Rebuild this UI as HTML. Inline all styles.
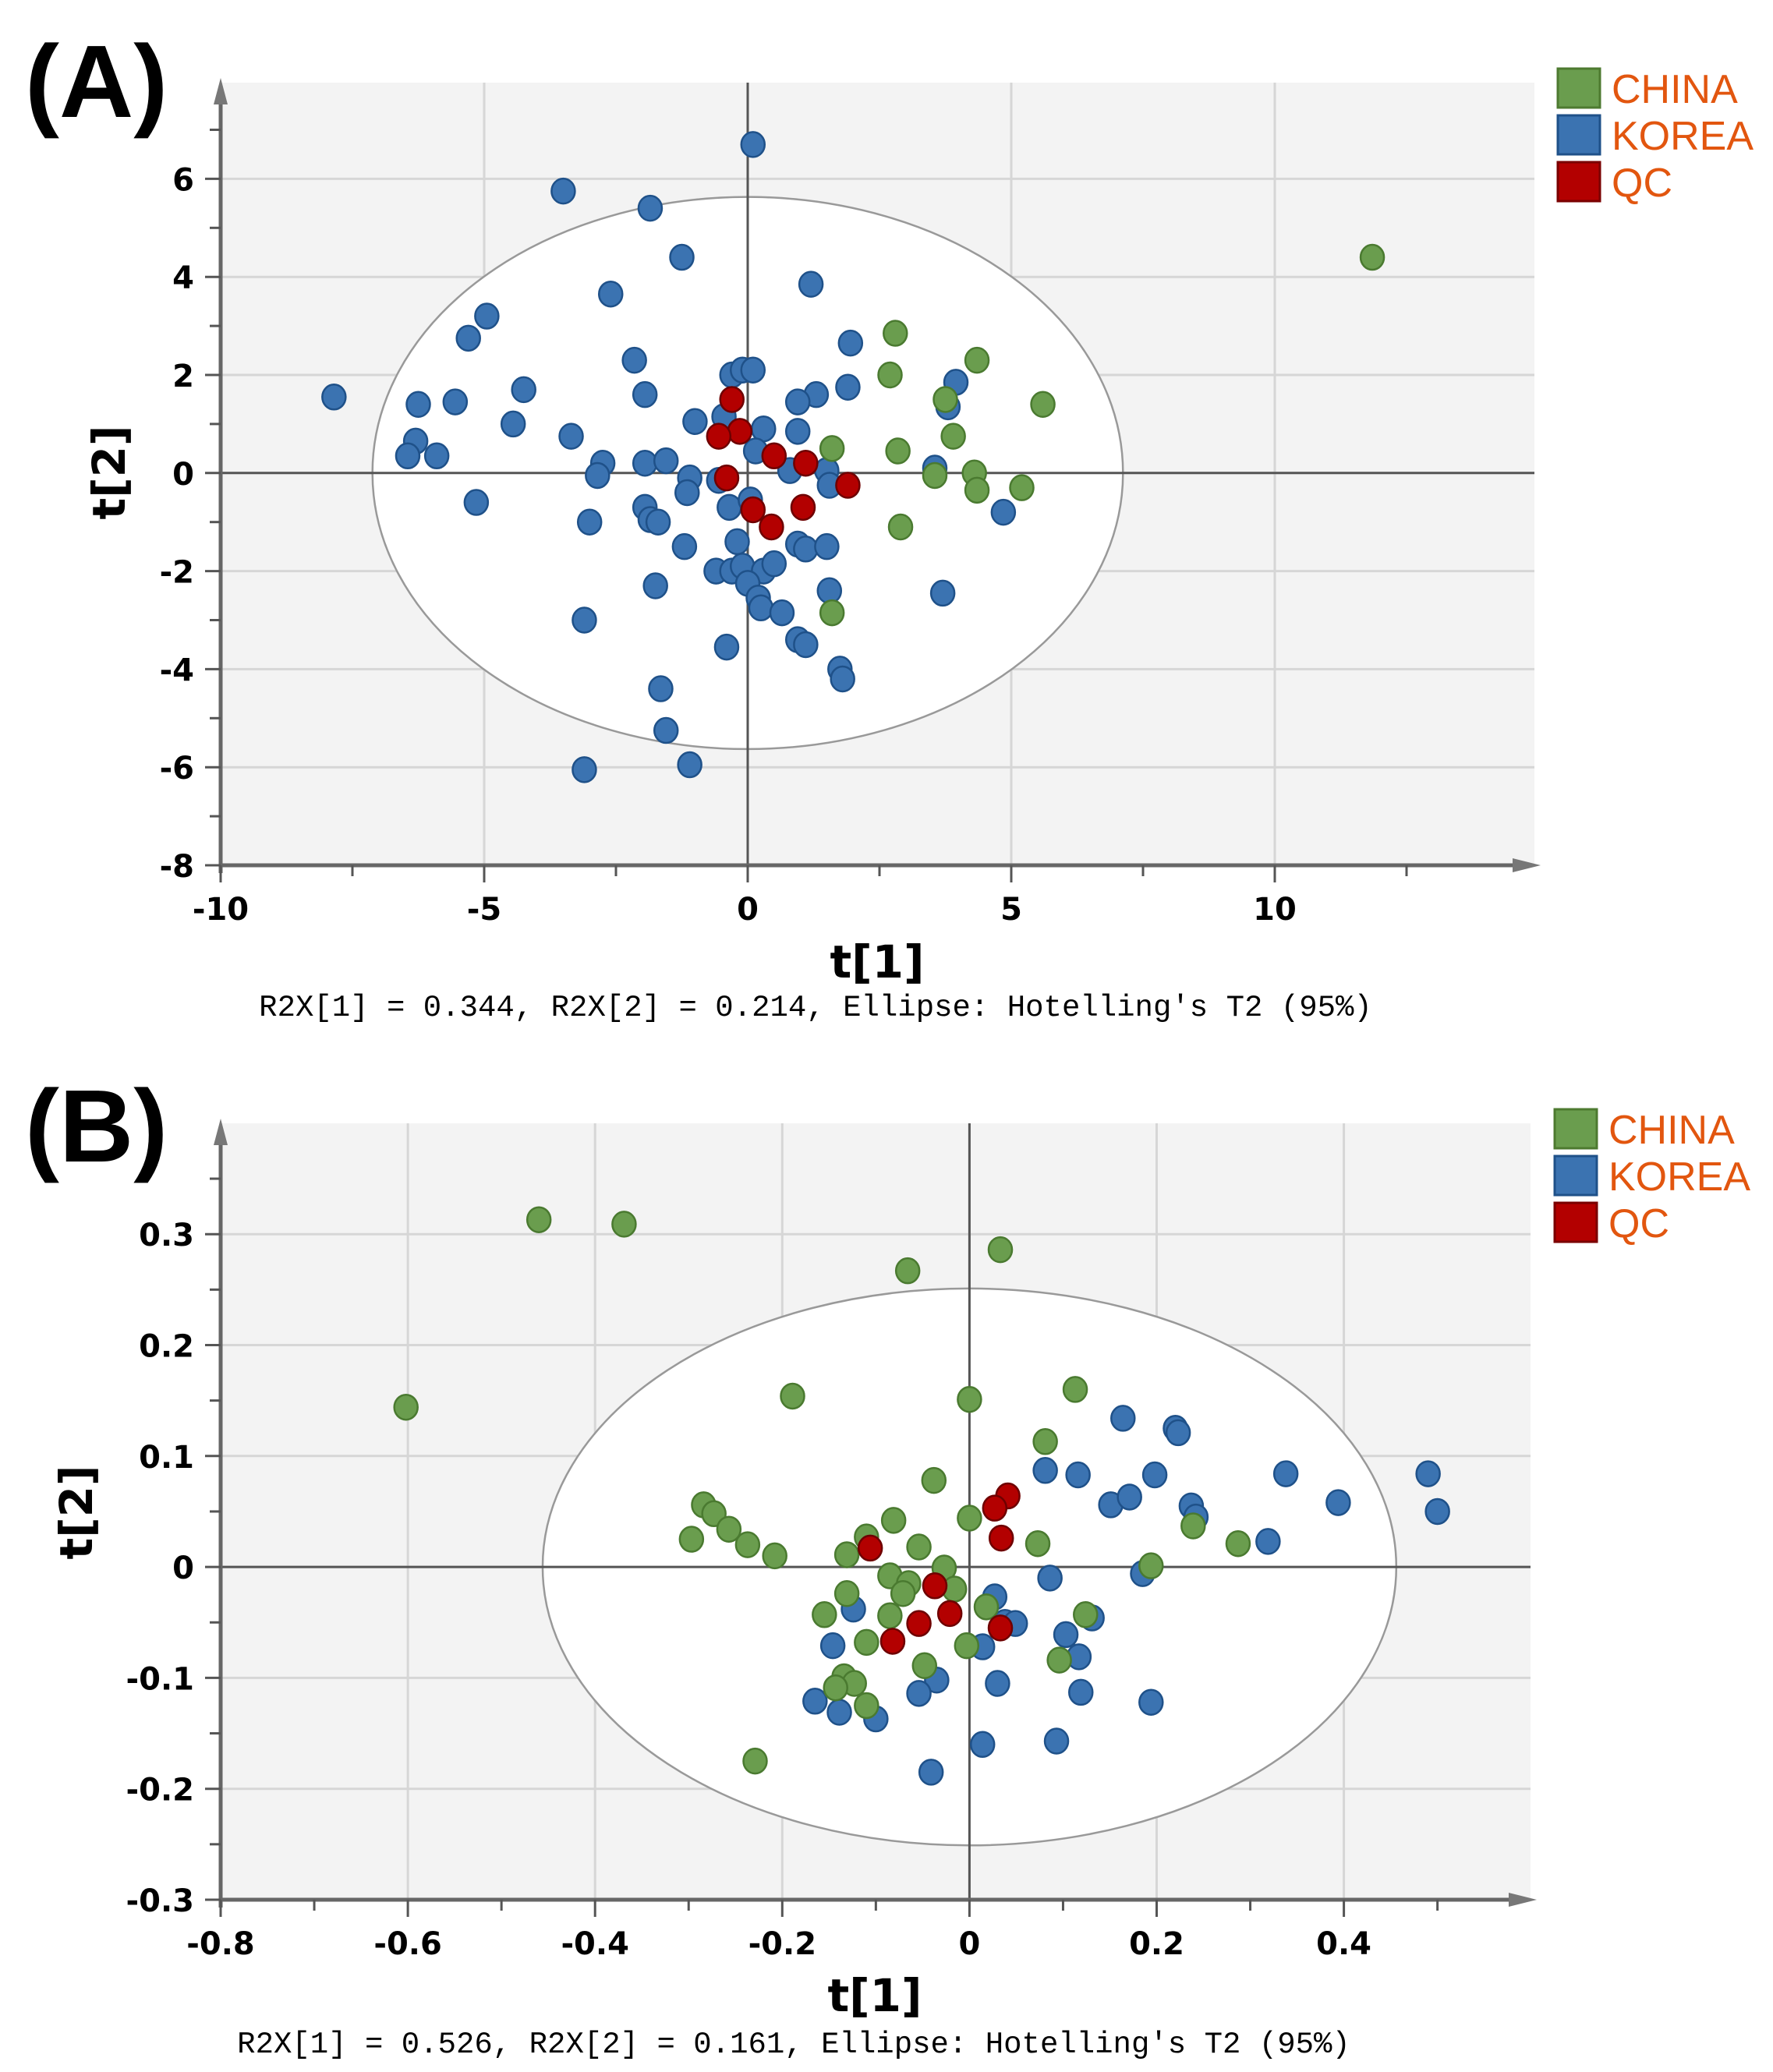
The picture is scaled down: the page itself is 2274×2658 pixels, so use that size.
<!DOCTYPE html>
<html><head><meta charset="utf-8">
<style>
html,body{margin:0;padding:0;background:#fff;}
svg{display:block;}
.tick{font-family:"DejaVu Sans","Liberation Sans",sans-serif;font-weight:bold;font-size:40px;fill:#000;}
.ttl{font-family:"DejaVu Sans","Liberation Sans",sans-serif;font-weight:bold;font-size:58px;fill:#000;}
.cap{font-family:"Liberation Mono","DejaVu Sans Mono",monospace;font-size:39px;fill:#000;}
.leg{font-family:"Liberation Sans",sans-serif;font-size:52px;fill:#e2560f;}
.pl{font-family:"Liberation Sans",sans-serif;font-weight:bold;font-size:132px;fill:#000;}
</style></head>
<body>
<svg id="chart" width="2274" height="2658" viewBox="0 0 2274 2658" xmlns="http://www.w3.org/2000/svg"></svg>
<script>
// ---------- Panel A data ----------
const aKoreaX=[0.1,-3.5,-1.85,-1.25,1.2,-2.6,-4.95,-5.3,1.95,-2.15,-0.3,-0.1,0.1,3.95,-7.85,-4.25,-6.25,-5.55,-1.95,1.9,1.3,0.95,3.8,-4.45,-1.0,-0.45,0.3,-3.35,0.95,-6.3,-6.45,-5.9,-2.75,-2.85,-1.95,-1.55,-1.1,-1.15,-0.55,0.15,0.8,1.5,1.55,3.55,-5.15,-1.95,-1.85,-1.7,-0.35,0.05,4.85,-3.0,-1.2,-0.2,0.95,1.1,1.5,-0.6,-0.3,-0.1,0.3,0.5,0,0.2,0.25,-1.75,1.55,3.7,0.65,-3.1,-0.4,0.95,1.1,1.75,1.8,-1.65,-1.55,-3.1,-1.1];
const aKoreaY=[6.7,5.75,5.4,4.4,3.85,3.65,3.2,2.75,2.65,2.3,2.0,2.1,2.1,1.85,1.55,1.7,1.4,1.45,1.6,1.75,1.6,1.45,1.35,1.0,1.05,1.15,0.9,0.75,0.85,0.65,0.35,0.35,0.2,-0.05,0.2,0.25,-0.1,-0.4,-0.15,0.45,0.05,0.05,-0.25,0.1,-0.6,-0.7,-0.95,-1.0,-0.7,-0.55,-0.8,-1.0,-1.5,-1.4,-1.45,-1.55,-1.5,-2.0,-2.0,-1.9,-2.0,-1.85,-2.25,-2.55,-2.75,-2.3,-2.4,-2.45,-2.85,-3.0,-3.55,-3.4,-3.5,-4.0,-4.2,-4.4,-5.25,-6.05,-5.95];
const aChinaX=[11.85,2.8,4.35,2.7,5.6,3.75,3.9,1.6,2.85,3.55,4.3,4.35,5.2,2.9,1.6];
const aChinaY=[4.4,2.85,2.3,2.0,1.4,1.5,0.75,0.5,0.45,-0.05,0.0,-0.35,-0.3,-1.1,-2.85];
const aQcX=[-0.3,-0.15,-0.55,0.5,1.1,1.9,-0.4,0.1,1.05,0.45];
const aQcY=[1.5,0.85,0.75,0.35,0.2,-0.25,-0.1,-0.75,-0.7,-1.1];
const aXTicks=[-10,-5,0,5,10];
const aYTicks=[-8,-6,-4,-2,0,2,4,6];

// ---------- Panel B data ----------
const bChinaX=[-0.46,-0.369,0.033,-0.066,-0.602,-0.189,0.0,0.113,0.081,-0.038,-0.284,-0.273,-0.257,-0.297,-0.237,-0.208,0.0,-0.081,-0.11,-0.131,-0.054,0.073,-0.027,-0.085,-0.065,-0.071,-0.016,-0.131,-0.155,-0.085,0.018,0.124,0.239,0.287,0.194,-0.11,-0.003,-0.048,0.096,-0.134,-0.123,-0.143,-0.11,-0.229];
const bChinaY=[0.313,0.309,0.286,0.267,0.144,0.154,0.151,0.16,0.113,0.078,0.056,0.048,0.034,0.025,0.02,0.01,0.044,0.042,0.027,0.011,0.018,0.021,-0.001,-0.008,-0.015,-0.024,-0.02,-0.024,-0.043,-0.044,-0.036,-0.043,0.037,0.021,0.001,-0.068,-0.071,-0.089,-0.084,-0.099,-0.105,-0.109,-0.125,-0.175];
const bKoreaX=[0.164,0.22,0.223,0.081,0.116,0.198,0.338,0.49,0.151,0.171,0.237,0.242,0.394,0.5,0.319,0.086,0.185,0.027,0.103,0.131,0.038,0.049,0.014,-0.124,-0.146,0.117,-0.035,-0.054,0.03,0.119,0.194,-0.165,-0.139,-0.1,0.014,0.093,-0.041];
const bKoreaY=[0.134,0.125,0.121,0.087,0.083,0.083,0.084,0.084,0.056,0.063,0.055,0.045,0.058,0.05,0.023,-0.01,-0.006,-0.027,-0.061,-0.046,-0.05,-0.051,-0.072,-0.038,-0.071,-0.081,-0.102,-0.114,-0.105,-0.113,-0.122,-0.121,-0.131,-0.137,-0.16,-0.157,-0.185];
const bQcX=[0.041,0.027,0.034,-0.106,-0.037,-0.021,-0.054,0.033,-0.082];
const bQcY=[0.064,0.053,0.026,0.017,-0.017,-0.042,-0.051,-0.055,-0.067];
const bXTicks=[-0.8,-0.6,-0.4,-0.2,0,0.2,0.4];
const bYTicks=[-0.3,-0.2,-0.1,0,0.1,0.2,0.3];

const NS="http://www.w3.org/2000/svg";
const svg=document.getElementById('chart');
function mk(tag,attrs,parent){const e=document.createElementNS(NS,tag);for(const k in attrs)e.setAttribute(k,attrs[k]);(parent||svg).appendChild(e);return e;}

function panel(cfg){
  const g=mk('g',{});
  
  
  const sx=v=>cfg.x0+(v-cfg.xmin)*cfg.kx;
  const sy=v=>cfg.y0-(v-cfg.ymin)*cfg.ky;
  const bg=mk('rect',{x:cfg.left,y:cfg.top,width:cfg.right-cfg.left,height:cfg.bottom-cfg.top,fill:'#f3f3f3'},g);
  
  
  cfg.yt.forEach(v=>{const l=mk('line',{x1:cfg.left,x2:cfg.right,y1:sy(v),y2:sy(v),stroke:'#d6d6d6','stroke-width':3},g);
    });
  cfg.xt.forEach(v=>{const l=mk('line',{x1:sx(v),x2:sx(v),y1:cfg.top,y2:cfg.bottom,stroke:'#d6d6d6','stroke-width':3},g);
    });
  const cx=sx(0),cy=sy(0);
  const el=mk('ellipse',{cx:cx,cy:cy,rx:(sx(cfg.erx)-cx),ry:(cy-sy(cfg.ery)),fill:'#fff',stroke:'#999','stroke-width':2.5},g);
  
  let z=mk('line',{x1:cfg.left,x2:cfg.right,y1:cy,y2:cy,stroke:'#555','stroke-width':3},g);
  
  z=mk('line',{x1:cx,x2:cx,y1:cfg.top,y2:cfg.bottom,stroke:'#555','stroke-width':3},g);
  
  const ax=mk('line',{x1:cfg.left,x2:cfg.right-10,y1:cfg.bottom,y2:cfg.bottom,stroke:'#666','stroke-width':5},g);
  
  const ay=mk('line',{x1:cfg.left,x2:cfg.left,y1:cfg.bottom+10,y2:cfg.top+10,stroke:'#666','stroke-width':5},g);
  
  let ar=mk('polygon',{points:`${cfg.right+8},${cfg.bottom} ${cfg.right-28},${cfg.bottom-9} ${cfg.right-28},${cfg.bottom+9}`,fill:'#777'},g);
  
  ar=mk('polygon',{points:`${cfg.left},${cfg.top-6} ${cfg.left-9},${cfg.top+28} ${cfg.left+9},${cfg.top+28}`,fill:'#777'},g);
  
  cfg.ymin_t.forEach(v=>{const t=mk('line',{x1:cfg.left-14,x2:cfg.left,y1:sy(v),y2:sy(v),stroke:'#555','stroke-width':3},g);
    });
  cfg.xmin_t.forEach(v=>{const t=mk('line',{x1:sx(v),x2:sx(v),y1:cfg.bottom,y2:cfg.bottom+14,stroke:'#555','stroke-width':3},g);
    });
  cfg.yt.forEach((v,i)=>{const t=mk('line',{x1:cfg.left-20,x2:cfg.left,y1:sy(v),y2:sy(v),stroke:'#555','stroke-width':3},g);
    
    const tx=mk('text',{x:cfg.left-34,y:sy(v)+15,'text-anchor':'end',class:'tick'},g);tx.textContent=cfg.ytl[i];
    });
  cfg.xt.forEach((v,i)=>{const t=mk('line',{x1:sx(v),x2:sx(v),y1:cfg.bottom,y2:cfg.bottom+22,stroke:'#555','stroke-width':3},g);
    
    const tx=mk('text',{x:sx(v),y:cfg.bottom+70,'text-anchor':'middle',class:'tick'},g);tx.textContent=cfg.xtl[i];
    });
  const series=[[cfg.kx_,cfg.ky_,'#3b73b1','#1f5189','korea'],[cfg.cx_,cfg.cy_,'#6a9d4e','#4a7a30','china'],[cfg.qx_,cfg.qy_,'#b30000','#6e0000','qc']];
  series.forEach(s=>{s[0].forEach((xv,i)=>{const c=mk('ellipse',{cx:sx(xv),cy:sy(s[1][i]),rx:15,ry:16,fill:s[2],stroke:s[3],'stroke-width':2.5},g);
    });});
  let t=mk('text',{x:cfg.t1x,y:cfg.t1y,'text-anchor':'middle',class:'ttl'},g);t.textContent='t[1]';
  
  t=mk('text',{x:0,y:0,'text-anchor':'middle',class:'ttl',transform:`translate(${cfg.t2x},${cfg.t2y}) rotate(-90)`},g);t.textContent='t[2]';
  
  t=mk('text',{x:cfg.capx,y:cfg.capy,'text-anchor':'middle',class:'cap'},g);t.textContent=cfg.cap;
  
  t=mk('text',{x:32,y:cfg.ply,class:'pl'},g);t.textContent=cfg.pl;
  
  const lg=mk('g',{},g);
  [['CHINA','#6a9d4e','#4d7a30'],['KOREA','#3b73b1','#1f5189'],['QC','#b30000','#7a0000']].forEach((e,i)=>{
    const y=cfg.legy+i*60;
    const r=mk('rect',{x:cfg.legx,y:y,width:54,height:50,fill:e[1],stroke:e[2],'stroke-width':3},lg);
    
    const tx=mk('text',{x:cfg.legx+69,y:y+44,class:'leg'},lg);tx.textContent=e[0];
    
  });
}
function range(a,b,s){const r=[];for(let v=a;v<=b+1e-9;v+=s)r.push(+v.toFixed(4));return r;}

panel({name:'panel-a-scores',left:283,right:1968,top:106,bottom:1110,x0:283,xmin:-10,kx:67.6,y0:1110,ymin:-8,ky:62.9,
  xt:aXTicks,xtl:aXTicks.map(String),yt:aYTicks,ytl:aYTicks.map(String),
  xmin_t:range(-7.5,12.5,5),ymin_t:range(-7,7,2),erx:7.12,ery:5.63,
  kx_:aKoreaX,ky_:aKoreaY,cx_:aChinaX,cy_:aChinaY,qx_:aQcX,qy_:aQcY,
  t1x:1125,t1y:1254,t2x:160,t2y:606,capx:1046,capy:1303,
  cap:"R2X[1] = 0.344, R2X[2] = 0.214, Ellipse: Hotelling's T2 (95%)",pl:'(A)',ply:150,legx:1998,legy:88});
panel({name:'panel-b-scores',left:283,right:1963,top:1441,bottom:2437,x0:283,xmin:-0.8,kx:1200.5,y0:2437,ymin:-0.3,ky:1423,
  xt:bXTicks,xtl:bXTicks.map(String),yt:bYTicks,ytl:bYTicks.map(String),
  xmin_t:range(-0.7,0.5,0.2),ymin_t:range(-0.25,0.35,0.1),erx:0.456,ery:0.251,
  kx_:bKoreaX,ky_:bKoreaY,cx_:bChinaX,cy_:bChinaY,qx_:bQcX,qy_:bQcY,
  t1x:1122,t1y:2580,t2x:118,t2y:1940,capx:1018,capy:2633,
  cap:"R2X[1] = 0.526, R2X[2] = 0.161, Ellipse: Hotelling's T2 (95%)",pl:'(B)',ply:1490,legx:1994,legy:1423});
</script>
</body></html>
